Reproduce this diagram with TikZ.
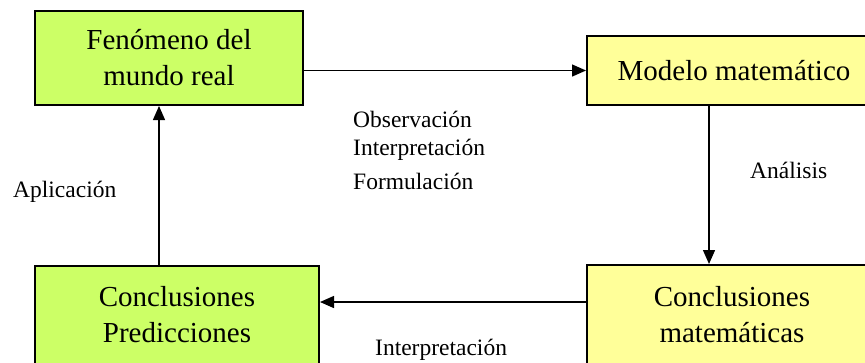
\documentclass[tikz,border=0pt]{standalone}
\usepackage{fontspec}
\setmainfont{Liberation Serif}
\usetikzlibrary{arrows.meta}
\definecolor{boxgreen}{HTML}{CCFF66}
\definecolor{boxyellow}{HTML}{FFFF99}
\tikzset{
  box/.style={draw=black, line width=2pt, inner sep=0pt, align=center, anchor=north west,
    font=\fontsize{29}{36}\selectfont},
  greenbox/.style={box, fill=boxgreen},
  yellowbox/.style={box, fill=boxyellow},
  arr/.style={line width=1.4pt, -{Triangle[length=14pt,width=12pt]}},
  lbl/.style={inner sep=0pt, anchor=base west, font=\fontsize{23.5}{28}\selectfont}
}
\begin{document}
\begin{tikzpicture}[x=1pt,y=-1pt]
\useasboundingbox (0,0) rectangle (865,362);
\clip (0,0) rectangle (865,362);
\fill[white] (0,0) rectangle (865,362);
\node[greenbox, minimum width=268pt, minimum height=94pt] (a) at (34,10) {Fenómeno del\\mundo real};
\node[yellowbox, minimum width=294pt, minimum height=69pt] (b) at (586,35) {Modelo matemático};
\node[greenbox, minimum width=284pt, minimum height=98pt] (c) at (34,265) {Conclusiones\\Predicciones};
\node[yellowbox, minimum width=290pt, minimum height=100pt] (d) at (586,264) {Conclusiones\\matemáticas};
\coordinate (vx) at (709,0);
\coordinate (vx2) at (159,0);
\coordinate (hy) at (0,302);
\draw[arr] (a.east |- b.west) -- (b.west);
\draw[arr] (b.south -| vx) -- (d.north -| vx);
\draw[arr] (d.west |- hy) -- (c.east |- hy);
\draw[arr] (c.north -| vx2) -- (a.south -| vx2);
\node[lbl] (l1) at (353,127) {Observación};
\node[lbl] (l2) at (353,155) {Interpretación};
\node[lbl] (l3) at (353,189) {Formulación};
\node[lbl] (l4) at (750,178) {Análisis};
\node[lbl] (l5) at (13,197) {Aplicación};
\node[lbl] (l6) at (375,355) {Interpretación};
\end{tikzpicture}
\end{document}
